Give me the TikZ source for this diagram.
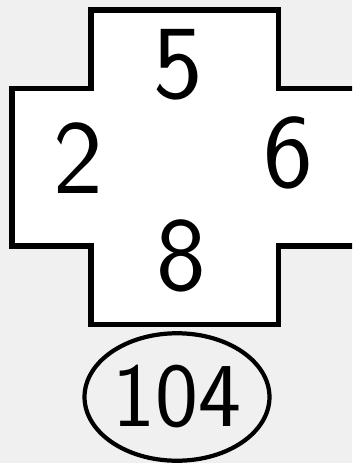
\documentclass[tikz,border=0pt]{standalone}
\usepackage{tikz}
\usetikzlibrary{shapes.geometric}

\begin{document}
\begin{tikzpicture}[
    x=0.02cm, y=-0.02cm,
    digit/.style={font=\sffamily\fontsize{60}{60}\selectfont, inner sep=0pt},
    outline/.style={draw=black, line width=2.85pt, line join=miter},
    total/.style={ellipse, draw=black, line width=2.4pt, fill=none,
                  minimum width=3.7cm, minimum height=2.55cm, inner sep=0pt,
                  font=\sffamily\fontsize{52}{52}\selectfont},
]

% background
\fill[gray!12] (0,0) rectangle (352,463);
\useasboundingbox (0,0) rectangle (352,463);
\clip (0,0) rectangle (352,463);

% cross
\draw[outline, fill=white] (91,10) -- (278,10) -- (278,88.5) -- (360,88.5)
  -- (360,246) -- (278,246) -- (278,324.5) -- (91,324.5) -- (91,246)
  -- (12,246) -- (12,88.5) -- (91,88.5) -- cycle;

% numbers
\node[digit] (top) at (178,65) {5};
\node[digit] (left) at (78,158) {2};
\node[digit] (right) at (288,153) {6};
\node[digit] (bottom) at (181,256) {8};

% sum
\node[total] (sum) at (177,397) {104};

\end{tikzpicture}
\end{document}
